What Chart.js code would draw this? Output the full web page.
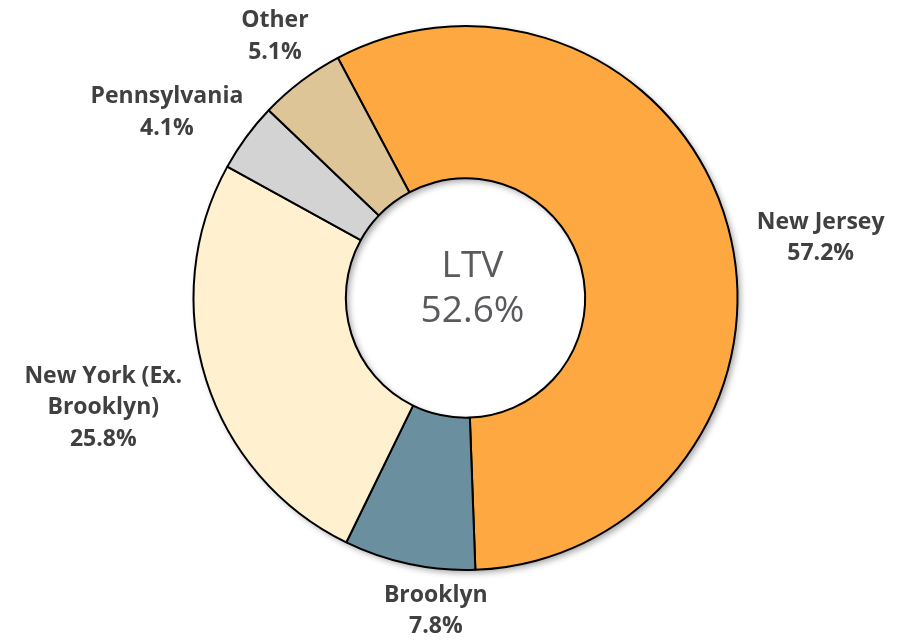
<!DOCTYPE html>
<html>
<head>
<meta charset="utf-8">
<script src="https://cdn.jsdelivr.net/npm/chart.js@4"></script>
<style>
  html, body { margin: 0; padding: 0; background: #fff; }
  #wrap { width: 911px; height: 641px; position: relative; }
</style>
</head>
<body>
<div id="wrap"><canvas id="ltvChart"></canvas></div>
<script>
const regions = ['New Jersey', 'Brooklyn', 'New York (Ex. Brooklyn)', 'Pennsylvania', 'Other'];
const shares = [57.2, 7.8, 25.8, 4.1, 5.1];
const sliceColors = ['#FDA841', '#6A8F9E', '#FFF1CF', '#D3D3D3', '#DDC597'];
const labelLines = [['New Jersey'], ['Brooklyn'], ['New York (Ex.', 'Brooklyn)'], ['Pennsylvania'], ['Other']];
const centerTitle = 'LTV';
const centerValue = '52.6%';

// white ring with a soft drop shadow underneath the slices
const ringShadow = {
    id: 'ringShadow',
    beforeDatasetsDraw(chart) {
        const arc = chart.getDatasetMeta(0).data[0];
        if (!arc) return;
        const ctx = chart.ctx;
        ctx.save();
        ctx.shadowColor = 'rgba(0,0,0,0.35)';
        ctx.shadowBlur = 6;
        ctx.shadowOffsetX = 3;
        ctx.shadowOffsetY = 3;
        ctx.fillStyle = '#fff';
        ctx.beginPath();
        ctx.arc(arc.x, arc.y, arc.outerRadius, 0, Math.PI * 2);
        ctx.arc(arc.x, arc.y, arc.innerRadius, 0, Math.PI * 2, true);
        ctx.fill();
        ctx.restore();
    }
};

const outsideLabels = {
    id: 'outsideLabels',
    afterDatasetsDraw(chart, args, opts) {
        const ctx = chart.ctx;
        const meta = chart.getDatasetMeta(0);
        ctx.save();
        ctx.font = opts.font;
        ctx.fillStyle = opts.color;
        ctx.textAlign = 'center';
        ctx.textBaseline = 'middle';
        meta.data.forEach((arc, i) => {
            const mid = (arc.startAngle + arc.endAngle) / 2;
            const r = arc.outerRadius + opts.offset;
            const nudge = opts.nudges[i];
            const x = arc.x + Math.cos(mid) * r + nudge[0];
            const y = arc.y + Math.sin(mid) * r + nudge[1];
            const lines = [...labelLines[i], shares[i].toFixed(1) + '%'];
            const top = y - (lines.length - 1) * opts.lineHeight / 2;
            lines.forEach((t, k) => ctx.fillText(t, x, top + k * opts.lineHeight));
        });
        ctx.restore();
    }
};

const centerText = {
    id: 'centerText',
    afterDatasetsDraw(chart) {
        const arc = chart.getDatasetMeta(0).data[0];
        if (!arc) return;
        const ctx = chart.ctx;
        ctx.save();
        ctx.font = '37px "Open Sans"';
        ctx.fillStyle = '#5a5a5e';
        ctx.textAlign = 'center';
        ctx.textBaseline = 'middle';
        ctx.fillText(centerTitle, arc.x + 7, arc.y - 32);
        ctx.fillText(centerValue, arc.x + 7, arc.y + 13);
        ctx.restore();
    }
};

new Chart(document.getElementById('ltvChart'), {
    type: 'doughnut',
    data: {
        labels: regions,
        datasets: [{
            data: shares,
            backgroundColor: sliceColors,
            borderColor: '#000',
            borderWidth: 2,
            hoverOffset: 0
        }]
    },
    options: {
        responsive: true,
        maintainAspectRatio: false,
        animation: false,
        rotation: -28,
        cutout: '44%',
        layout: { padding: { left: 20, right: 0, top: 25, bottom: 70 } },
        plugins: {
            legend: { display: false },
            tooltip: { enabled: false },
            outsideLabels: {
                font: 'bold 23px "Open Sans"',
                color: '#404040',
                lineHeight: 31.5,
                offset: 45,
                nudges: [[49, 22], [36, 3], [-60, 14], [-43, 2], [1, -9]]
            }
        }
    },
    plugins: [ringShadow, outsideLabels, centerText]
});
</script>
</body>
</html>
